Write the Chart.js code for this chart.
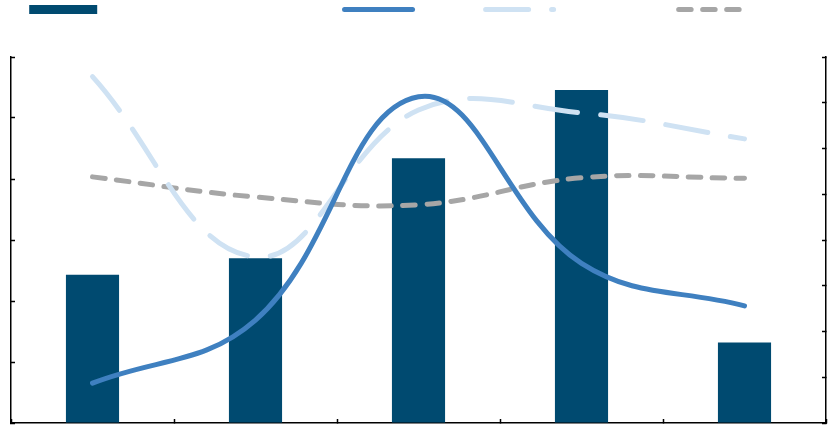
<!DOCTYPE html>
<html>
<head>
<meta charset="utf-8">
<script src="https://cdn.jsdelivr.net/npm/chart.js@4.4.0/dist/chart.umd.min.js"></script>
<style>
  html, body { margin: 0; padding: 0; background: #fff; }
  #wrap { width: 832px; height: 427px; position: relative; }
</style>
</head>
<body>
<div id="wrap"><canvas id="myChart"></canvas></div>
<script>
// data
const categories = ["2019", "2020", "2021", "2022", "2023"]
const revenue = [24.3, 27.0, 43.4, 54.6, 13.2]          // bars, left axis 0-60
const salesGrowth = [8.7, 22.5, 71.3, 34.9, 25.6]       // solid blue, right axis 0-80
const retention = [75.7, 36.3, 68.4, 67.8, 62.1]        // light dashed
const benchmark = [53.8, 49.4, 47.7, 53.6, 53.5]        // grey dashed

const navy = "#004a70"
const blue = "#3f80c0"
const lightBlue = "#cfe2f3"
const grey = "#a6a6a6"

// legend sits on top, push the plot down under it
const legendSpacer = {
    id: "legendSpacer",
    beforeInit(chart) {
        const fit = chart.legend.fit
        chart.legend.fit = function () {
            fit.call(this)
            this.height += 32
        }
    }
}

const axisTicks = {
    drawOnChartArea: false,
    drawTicks: true,
    tickLength: -4,
    tickWidth: 1.5,
    color: "#000"
}

var myChart = new Chart(document.querySelector("#myChart").getContext("2d"), {
    data: {
        labels: categories,
        datasets: [{
            type: "bar",
            label: "Revenue by fiscal quarter (millions of US dollars)",
            data: revenue,
            backgroundColor: navy,
            borderWidth: 0,
            yAxisID: "y",
            categoryPercentage: 1,
            barPercentage: 0.326,
            order: 1
        }, {
            type: "line",
            label: "Sales growth",
            data: salesGrowth,
            borderColor: blue,
            borderWidth: 5,
            tension: 0.4,
            borderCapStyle: "round",
            pointRadius: 0,
            yAxisID: "y1",
            order: 0
        }, {
            type: "line",
            label: "Customer retention rate",
            data: retention,
            borderColor: lightBlue,
            borderWidth: 5,
            borderDash: [43, 23],
            tension: 0.4,
            borderCapStyle: "round",
            pointRadius: 0,
            yAxisID: "y1",
            order: 0
        }, {
            type: "line",
            label: "Benchmark",
            data: benchmark,
            borderColor: grey,
            borderWidth: 5,
            borderDash: [12.5, 11.5],
            tension: 0.4,
            borderCapStyle: "round",
            pointRadius: 0,
            yAxisID: "y1",
            order: 0
        }]
    },
    options: {
        responsive: true,
        maintainAspectRatio: false,
        animation: false,
        layout: { padding: { left: 11, right: 6, top: 0, bottom: 4 } },
        font: { family: "Liberation Sans" },
        plugins: {
            tooltip: { enabled: false },
            legend: {
                position: "top",
                labels: {
                    usePointStyle: true,
                    pointStyleWidth: 68,
                    boxHeight: 9,
                    padding: 4,
                    color: "transparent",
                    font: { family: "Liberation Sans", size: 11 },
                    generateLabels: (chart) => chart.data.datasets.map((ds, i) => ({
                        text: ds.label,
                        fontColor: "transparent",
                        fillStyle: ds.type === "bar" ? ds.backgroundColor : "transparent",
                        strokeStyle: ds.type === "bar" ? ds.backgroundColor : ds.borderColor,
                        lineWidth: ds.type === "bar" ? 0 : ds.borderWidth,
                        lineDash: ds.borderDash || [],
                        lineCap: "round",
                        pointStyle: ds.type === "bar" ? "rect" : "line",
                        rotation: ds.type === "bar" ? 0 : 180,
                        hidden: !chart.isDatasetVisible(i),
                        datasetIndex: i
                    }))
                }
            }
        },
        scales: {
            x: {
                ticks: { display: false },
                grid: axisTicks,
                border: { color: "#000", width: 1.5 },
                afterFit: (scale) => { scale.height = 0 }
            },
            y: {
                position: "left",
                min: 0,
                max: 60,
                ticks: { display: false, stepSize: 10 },
                grid: axisTicks,
                border: { color: "#000", width: 1.5 },
                afterFit: (scale) => { scale.width = 0 }
            },
            y1: {
                position: "right",
                min: 0,
                max: 80,
                ticks: { display: false, stepSize: 10 },
                grid: axisTicks,
                border: { color: "#000", width: 1.5 },
                afterFit: (scale) => { scale.width = 0 }
            }
        }
    },
    plugins: [legendSpacer]
});
</script>
</body>
</html>
